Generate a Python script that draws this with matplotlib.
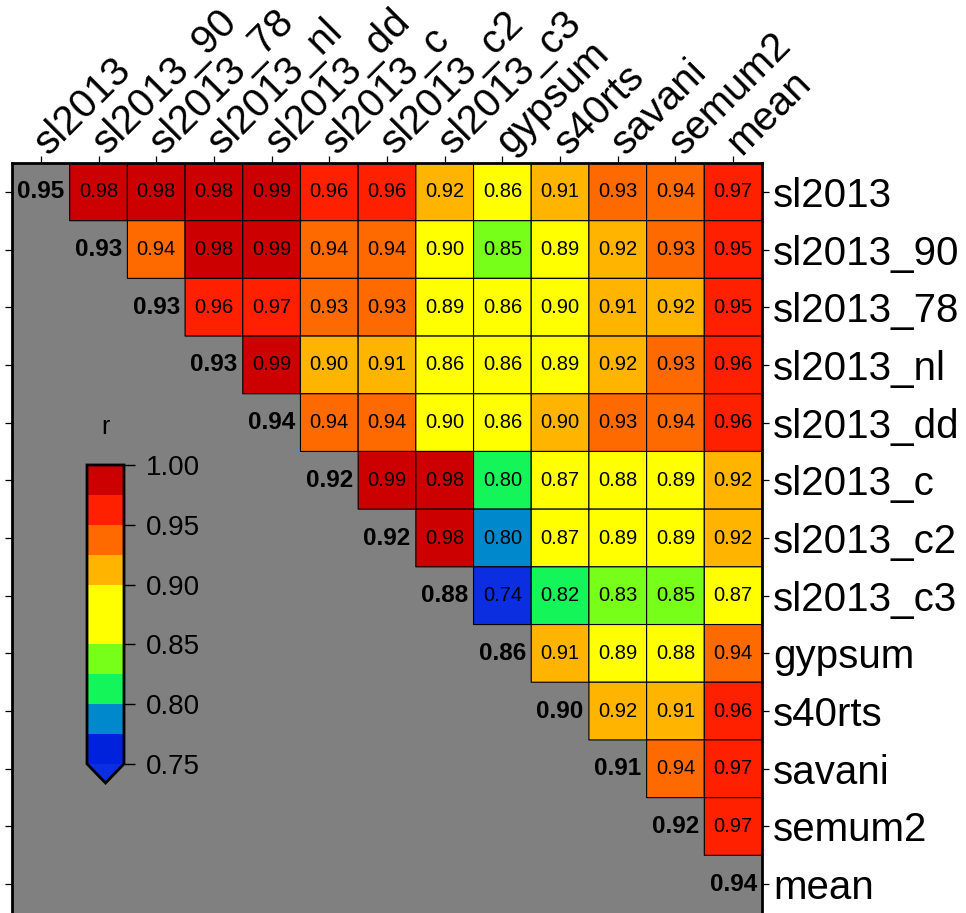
import numpy as np
import matplotlib
matplotlib.use("Agg")
import matplotlib.pyplot as plt
from matplotlib.colors import ListedColormap, BoundaryNorm
from matplotlib.transforms import ScaledTranslation

plt.rcParams['font.family'] = ['Liberation Sans', 'DejaVu Sans']

models = ["sl2013", "sl2013_90", "sl2013_78", "sl2013_nl", "sl2013_dd",
          "sl2013_c", "sl2013_c2", "sl2013_c3", "gypsum", "s40rts",
          "savani", "semum2", "mean"]

# diagonal values (shown in bold on grey)
diag_values = [0.95, 0.93, 0.93, 0.93, 0.94, 0.92, 0.92, 0.88, 0.86, 0.90, 0.91, 0.92, 0.94]

# upper-triangle correlations, row i lists columns i+1 .. end
row_sl2013    = [0.98, 0.98, 0.98, 0.99, 0.96, 0.96, 0.92, 0.86, 0.91, 0.93, 0.94, 0.97]
row_sl2013_90 = [0.94, 0.98, 0.99, 0.94, 0.94, 0.898, 0.848, 0.89, 0.92, 0.93, 0.95]
row_sl2013_78 = [0.96, 0.97, 0.93, 0.93, 0.89, 0.86, 0.898, 0.91, 0.92, 0.95]
row_sl2013_nl = [0.99, 0.901, 0.91, 0.86, 0.86, 0.89, 0.92, 0.93, 0.96]
row_sl2013_dd = [0.94, 0.94, 0.898, 0.86, 0.901, 0.93, 0.94, 0.96]
row_sl2013_c  = [0.99, 0.98, 0.801, 0.87, 0.88, 0.89, 0.92]
row_sl2013_c2 = [0.98, 0.798, 0.87, 0.89, 0.89, 0.92]
row_sl2013_c3 = [0.74, 0.82, 0.83, 0.848, 0.87]
row_gypsum    = [0.91, 0.89, 0.88, 0.94]
row_s40rts    = [0.92, 0.91, 0.96]
row_savani    = [0.94, 0.97]
row_semum2    = [0.97]
upper_rows = [row_sl2013, row_sl2013_90, row_sl2013_78, row_sl2013_nl, row_sl2013_dd,
              row_sl2013_c, row_sl2013_c2, row_sl2013_c3, row_gypsum, row_s40rts,
              row_savani, row_semum2, []]

level_bounds = [0.75, 0.775, 0.80, 0.825, 0.85, 0.875, 0.90, 0.925, 0.95, 0.975, 1.00]
level_colors = ["#0022dd", "#0088cc", "#14f55a", "#77ff1a", "#ffff00",
                "#ffff00", "#ffb400", "#ff6a00", "#ff2000", "#cc0000"]
cbar_ticks = [0.75, 0.80, 0.85, 0.90, 0.95, 1.00]

n = len(models)
M = np.full((n, n), np.nan)
for i, row in enumerate(upper_rows):
    for k, v in enumerate(row):
        M[i, i + 1 + k] = v
Mm = np.ma.masked_invalid(M)

cmap = ListedColormap(level_colors)
cmap.set_under("#0a2ee0")
norm = BoundaryNorm(level_bounds, cmap.N)

W, H = 966, 913
fig = plt.figure(figsize=(W / 100, H / 100), dpi=100)
ax = fig.add_axes([12 / W, 0.0, 750 / W, 750 / H])
ax.set_facecolor("#808080")

edges = np.arange(n + 1)
mesh = ax.pcolor(edges, edges, Mm, cmap=cmap, norm=norm,
                 edgecolors="black", linewidth=0.8)
ax.set_xlim(0, n)
ax.set_ylim(n, 0)

for i in range(n):
    for j in range(i + 1, n):
        ax.text(j + 0.5, i + 0.5, f"{M[i, j]:.2f}", ha="center", va="center",
                fontsize=14.5, color="black")
    ax.text(i + 0.5, i + 0.5, f"{diag_values[i]:.2f}", ha="center", va="center",
            fontsize=17.5, fontweight="bold", color="black")

centers = np.arange(n) + 0.5
ax.set_xticks(centers)
ax.set_yticks(centers)
ax.xaxis.tick_top()
ax.set_xticklabels(models, rotation=45, ha="left", va="bottom",
                   rotation_mode="anchor", fontsize=29)
ax.set_yticklabels(models, fontsize=29)
ax.tick_params(axis="y", left=True, right=True, labelleft=False, labelright=True,
               direction="out", length=5, width=0.9, pad=3)
ax.tick_params(axis="x", top=True, bottom=False, labeltop=True, labelbottom=False,
               direction="out", length=5, width=0.9, pad=2)
shift = ScaledTranslation(14 / 100, -8 / 100, fig.dpi_scale_trans)
for lab in ax.get_xticklabels():
    lab.set_transform(lab.get_transform() + shift)
for s in ax.spines.values():
    s.set_linewidth(2.0)
ax.spines["bottom"].set_visible(False)

# colorbar inside the axes
cax = fig.add_axes([87 / W, (H - 783) / H, 37 / W, 318 / H])
cb = fig.colorbar(mesh, cax=cax, extend="min", extendfrac=0.064,
                  ticks=cbar_ticks, drawedges=False)
cb.outline.set_linewidth(2.0)
cb.ax.set_yticklabels([f"{t:.2f}" for t in cbar_ticks])
cb.ax.tick_params(labelsize=20, length=8, width=1.0, direction="out", pad=8)
cb.ax.minorticks_off()
cax.set_title("r", fontsize=18, pad=22)

fig.savefig("out.png", dpi=100)
